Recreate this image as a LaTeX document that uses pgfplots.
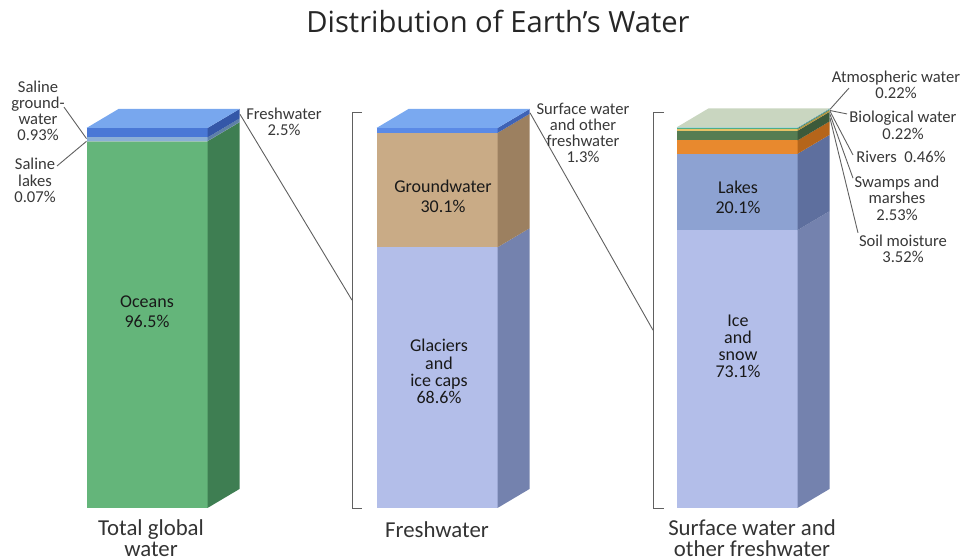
\documentclass[border=0pt]{standalone}
\usepackage{pgfplots}
\pgfplotsset{compat=1.18}
\usepackage{fontspec}
\setmainfont{Carlito}
\newfontfamily\titlefont{Open Sans}
\definecolor{oceanF}{HTML}{64B57A}\definecolor{oceanS}{HTML}{3E7E52}
\definecolor{salLakeF}{HTML}{9CC3B4}\definecolor{salLakeS}{HTML}{6C9384}
\definecolor{salGwF}{HTML}{8CAFD6}\definecolor{salGwS}{HTML}{5E80A8}
\definecolor{freshF}{HTML}{4A78D6}\definecolor{freshS}{HTML}{3457A8}
\definecolor{topA}{HTML}{78A7EE}
\definecolor{glacF}{HTML}{B3BEE9}\definecolor{glacS}{HTML}{7482AE}
\definecolor{gwF}{HTML}{C9AB86}\definecolor{gwS}{HTML}{9C8060}
\definecolor{surfF}{HTML}{5B8AE6}\definecolor{surfS}{HTML}{3F63B5}
\definecolor{topB}{HTML}{7AA9F0}
\definecolor{lakeF}{HTML}{8DA2D2}\definecolor{lakeS}{HTML}{5E6F9E}
\definecolor{soilF}{HTML}{E8892E}\definecolor{soilS}{HTML}{B5651A}
\definecolor{swampF}{HTML}{567D52}\definecolor{swampS}{HTML}{3C5A3A}
\definecolor{riverF}{HTML}{E7C266}\definecolor{riverS}{HTML}{B89640}
\definecolor{bioF}{HTML}{4FAE84}\definecolor{bioS}{HTML}{3A8566}
\definecolor{atmF}{HTML}{9FD3DE}\definecolor{atmS}{HTML}{70A6B0}
\definecolor{topC}{HTML}{C9D6C0}
\definecolor{lbl}{HTML}{383838}
\pgfplotsset{
  face/.style={draw=none, mark=none},
  conn/.style={draw=gray!75!black, line width=0.45pt, mark=none},
}
\begin{document}
\begin{tikzpicture}
\begin{axis}[x=0.5pt, y=1.9pt, xmin=0, xmax=960, ymin=-13.6842, ymax=133.6842,
  scale only axis, hide axis, clip=false,
  anchor=south west, at={(0,0)}]
% ---- Total global water: oceans 96.5, saline lakes 0.07, saline groundwater 0.93, freshwater 2.5
\addplot[face, fill=oceanF] coordinates {(86.5,0) (207.5,0) (207.5,96.5) (86.5,96.5)};
\addplot[face, fill=salLakeF] coordinates {(86.5,96.5) (207.5,96.5) (207.5,96.57) (86.5,96.57)};
\addplot[face, fill=salGwF] coordinates {(86.5,96.57) (207.5,96.57) (207.5,97.5) (86.5,97.5)};
\addplot[face, fill=freshF] coordinates {(86.5,97.5) (207.5,97.5) (207.5,100) (86.5,100)};
\addplot[face, fill=oceanS] coordinates {(207.5,0) (239.5,5) (239.5,101.5) (207.5,96.5)};
\addplot[face, fill=salLakeS] coordinates {(207.5,96.5) (239.5,101.5) (239.5,101.57) (207.5,96.57)};
\addplot[face, fill=salGwS] coordinates {(207.5,96.57) (239.5,101.57) (239.5,102.5) (207.5,97.5)};
\addplot[face, fill=freshS] coordinates {(207.5,97.5) (239.5,102.5) (239.5,105) (207.5,100)};
\addplot[face, fill=topA] coordinates {(86.5,100) (118.5,105) (239.5,105) (207.5,100)};
% ---- Freshwater: glaciers 68.6, groundwater 30.1, surface 1.3
\addplot[face, fill=glacF] coordinates {(376.5,0) (497.5,0) (497.5,68.6) (376.5,68.6)};
\addplot[face, fill=gwF] coordinates {(376.5,68.6) (497.5,68.6) (497.5,98.7) (376.5,98.7)};
\addplot[face, fill=surfF] coordinates {(376.5,98.7) (497.5,98.7) (497.5,100) (376.5,100)};
\addplot[face, fill=glacS] coordinates {(497.5,0) (529.5,5) (529.5,73.6) (497.5,68.6)};
\addplot[face, fill=gwS] coordinates {(497.5,68.6) (529.5,73.6) (529.5,103.7) (497.5,98.7)};
\addplot[face, fill=surfS] coordinates {(497.5,98.7) (529.5,103.7) (529.5,105) (497.5,100)};
\addplot[face, fill=topB] coordinates {(376.5,100) (408.5,105) (529.5,105) (497.5,100)};
% ---- Surface water: ice 73.1, lakes 20.1, soil 3.52, swamps 2.53, rivers 0.46, bio 0.22, atm 0.22
\addplot[face, fill=glacF] coordinates {(676.5,0) (797.5,0) (797.5,73.1) (676.5,73.1)};
\addplot[face, fill=lakeF] coordinates {(676.5,73.1) (797.5,73.1) (797.5,93.2) (676.5,93.2)};
\addplot[face, fill=soilF] coordinates {(676.5,93.2) (797.5,93.2) (797.5,96.72) (676.5,96.72)};
\addplot[face, fill=swampF] coordinates {(676.5,96.72) (797.5,96.72) (797.5,99.25) (676.5,99.25)};
\addplot[face, fill=riverF] coordinates {(676.5,99.25) (797.5,99.25) (797.5,99.71) (676.5,99.71)};
\addplot[face, fill=bioF] coordinates {(676.5,99.71) (797.5,99.71) (797.5,99.93) (676.5,99.93)};
\addplot[face, fill=atmF] coordinates {(676.5,99.93) (797.5,99.93) (797.5,100.15) (676.5,100.15)};
\addplot[face, fill=glacS] coordinates {(797.5,0) (829.5,5) (829.5,78.1) (797.5,73.1)};
\addplot[face, fill=lakeS] coordinates {(797.5,73.1) (829.5,78.1) (829.5,98.2) (797.5,93.2)};
\addplot[face, fill=soilS] coordinates {(797.5,93.2) (829.5,98.2) (829.5,101.72) (797.5,96.72)};
\addplot[face, fill=swampS] coordinates {(797.5,96.72) (829.5,101.72) (829.5,104.25) (797.5,99.25)};
\addplot[face, fill=riverS] coordinates {(797.5,99.25) (829.5,104.25) (829.5,104.71) (797.5,99.71)};
\addplot[face, fill=bioS] coordinates {(797.5,99.71) (829.5,104.71) (829.5,104.93) (797.5,99.93)};
\addplot[face, fill=atmS] coordinates {(797.5,99.93) (829.5,104.93) (829.5,105.15) (797.5,100.15)};
\addplot[face, fill=topC] coordinates {(676.5,100.15) (708.5,105.15) (829.5,105.15) (797.5,100.15)};
% ---- brackets and connectors ----
\addplot[conn] coordinates {(362,104.2) (352,104.2) (352,0) (362,0)};
\addplot[conn] coordinates {(664,104.2) (653,104.2) (653,0) (664,0)};
\addplot[conn] coordinates {(240,103.6) (352,54.7)};
\addplot[conn] coordinates {(530,104) (653,46.8)};
\addplot[conn] coordinates {(64,105.5) (86.5,97.2)};
\addplot[conn] coordinates {(57,90.0) (86.5,96.5)};
\addplot[conn] coordinates {(849,110.5) (830,104.9)};
\addplot[conn] coordinates {(847,103.7) (830,104.6)};
\addplot[conn] coordinates {(830,104.4) (853,92.9)};
\addplot[conn] coordinates {(830,103.6) (853,86.8)};
\addplot[conn] coordinates {(830,102.6) (858,72.4)};
% ---- texts ----
\node[text=black!85, font=\titlefont\fontsize{14.6}{17}\selectfont] at (axis cs:498,127.9) {Distribution of Earth’s Water};
\node[align=center, text=lbl, font=\fontsize{8.3}{8.1}\selectfont] at (axis cs:38,104.5) {Saline\\ground-\\water\\0.93\%};
\node[align=center, text=lbl, font=\fontsize{8.3}{8.1}\selectfont] at (axis cs:35,86.2) {Saline\\lakes\\0.07\%};
\node[align=center, text=lbl, font=\fontsize{8.3}{8.1}\selectfont] at (axis cs:284,101.6) {Freshwater\\2.5\%};
\node[align=center, text=lbl, font=\fontsize{8.3}{8.1}\selectfont] at (axis cs:583,98.7) {Surface water\\and other\\freshwater\\1.3\%};
\node[align=center, text=lbl, font=\fontsize{8.3}{8.1}\selectfont] at (axis cs:896,111.3) {Atmospheric water\\0.22\%};
\node[align=center, text=lbl, font=\fontsize{8.3}{8.1}\selectfont] at (axis cs:903,100.7) {Biological water\\0.22\%};
\node[align=center, text=lbl, font=\fontsize{8.3}{8.1}\selectfont] at (axis cs:901,92.4) {Rivers~~0.46\%};
\node[align=center, text=lbl, font=\fontsize{8.3}{8.1}\selectfont] at (axis cs:897,81.5) {Swamps and\\marshes\\2.53\%};
\node[align=center, text=lbl, font=\fontsize{8.3}{8.1}\selectfont] at (axis cs:903,68.3) {Soil moisture\\3.52\%};
\node[align=center, text=black!90, font=\fontsize{9}{10}\selectfont] at (axis cs:147,51.6) {Oceans\\96.5\%};
\node[align=center, text=black!90, font=\fontsize{9}{10}\selectfont] at (axis cs:443,82.1) {Groundwater\\30.1\%};
\node[align=center, text=black!90, font=\fontsize{9}{10}\selectfont] at (axis cs:738,81.7) {Lakes\\20.1\%};
\node[align=center, text=black!90, font=\fontsize{9}{8.6}\selectfont] at (axis cs:439,35.9) {Glaciers\\and\\ice caps\\68.6\%};
\node[align=center, text=black!90, font=\fontsize{9}{8.6}\selectfont] at (axis cs:738,42.5) {Ice\\and\\snow\\73.1\%};
\node[align=center, text=black!80, font=\fontsize{11.4}{10.6}\selectfont] at (axis cs:151,-7.9) {Total global\\water};
\node[align=center, text=black!80, font=\fontsize{11.4}{10.6}\selectfont] at (axis cs:437,-5.8) {Freshwater};
\node[align=center, text=black!80, font=\fontsize{11.4}{10.6}\selectfont] at (axis cs:752,-7.9) {Surface water and\\other freshwater};
\end{axis}
\pgfresetboundingbox
\path[use as bounding box] (current axis.south west) rectangle (current axis.north east);
\end{tikzpicture}
\end{document}
